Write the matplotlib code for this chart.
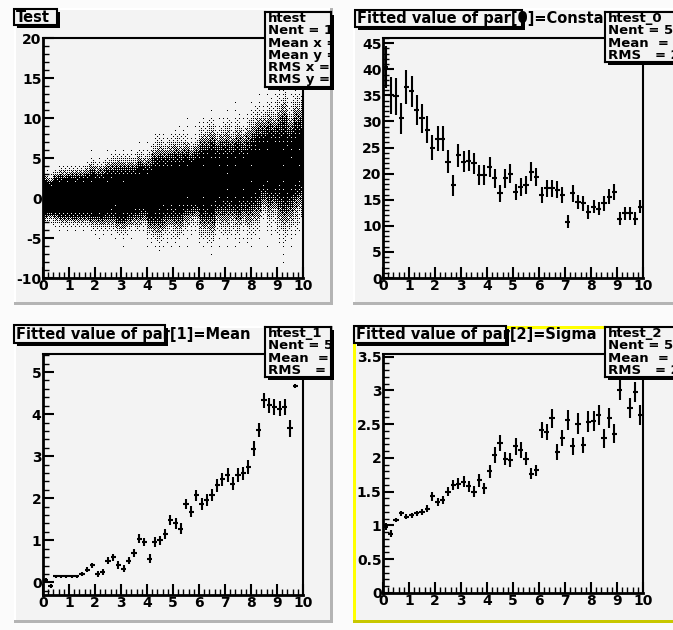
import numpy as np
import matplotlib
matplotlib.use("Agg")
import matplotlib.pyplot as plt
from matplotlib.patches import Rectangle
from matplotlib.ticker import MultipleLocator, FuncFormatter

# slice bins (FitSlicesY of htest, 50 bins on 0..10)
bin_x = np.linspace(0.1, 9.9, 50)

constant = [40.5, 35.0, 34.8, 30.6, 36.6, 35.8, 32.2, 30.6, 28.4, 25.0,
            26.7, 26.7, 22.3, 17.8, 23.5, 22.3, 22.5, 22.0, 19.7, 19.7,
            21.3, 19.1, 16.2, 19.1, 20.0, 16.5, 17.5, 17.8, 20.4, 19.4,
            15.9, 17.2, 17.2, 16.9, 15.9, 10.8, 16.2, 14.6, 14.3, 12.7,
            13.7, 13.3, 14.3, 15.6, 16.5, 11.4, 12.4, 12.4, 11.4, 13.7]
constant_err = [4.0, 3.5, 3.5, 3.0, 3.2, 3.0, 2.8, 2.8, 2.6, 2.4,
                2.4, 2.4, 2.2, 2.0, 2.2, 2.0, 2.0, 2.0, 1.9, 1.9,
                1.9, 1.8, 1.7, 1.8, 1.8, 1.6, 1.7, 1.7, 1.8, 1.7,
                1.6, 1.6, 1.6, 1.6, 1.5, 1.3, 1.6, 1.4, 1.4, 1.3,
                1.3, 1.3, 1.4, 1.4, 1.5, 1.2, 1.2, 1.2, 1.2, 1.3]

mean = [0.05, -0.09, 0.14, 0.14, 0.14, 0.14, 0.14, 0.19, 0.30, 0.41,
        0.20, 0.24, 0.52, 0.60, 0.41, 0.33, 0.52, 0.70, 1.04, 0.96,
        0.56, 0.96, 1.00, 1.16, 1.48, 1.40, 1.28, 1.87, 1.68, 2.07,
        1.87, 1.95, 2.07, 2.31, 2.45, 2.55, 2.35, 2.55, 2.59, 2.75,
        3.18, 3.62, 4.33, 4.21, 4.17, 4.13, 4.17, 3.66, 4.67, 5.00]
mean_err = [0.05, 0.05, 0.03, 0.03, 0.03, 0.03, 0.03, 0.05, 0.06, 0.06,
            0.07, 0.07, 0.08, 0.08, 0.09, 0.09, 0.09, 0.09, 0.10, 0.10,
            0.11, 0.11, 0.11, 0.12, 0.12, 0.12, 0.12, 0.12, 0.13, 0.13,
            0.14, 0.14, 0.14, 0.15, 0.15, 0.16, 0.15, 0.16, 0.16, 0.17,
            0.17, 0.17, 0.18, 0.18, 0.18, 0.18, 0.18, 0.20, 0.05, 0.20]

sigma = [0.98, 0.88, 1.08, 1.18, 1.13, 1.15, 1.18, 1.20, 1.25, 1.43,
         1.35, 1.38, 1.50, 1.60, 1.62, 1.65, 1.58, 1.50, 1.67, 1.55,
         1.80, 2.04, 2.22, 1.99, 1.97, 2.17, 2.12, 1.99, 1.77, 1.82,
         2.41, 2.39, 2.59, 2.09, 2.29, 2.56, 2.17, 2.51, 2.19, 2.54,
         2.55, 2.64, 2.29, 2.59, 2.36, 3.01, 3.30, 2.74, 2.98, 2.64]
sigma_err = [0.05, 0.05, 0.03, 0.04, 0.04, 0.04, 0.04, 0.05, 0.05, 0.06,
             0.06, 0.06, 0.07, 0.08, 0.08, 0.08, 0.08, 0.08, 0.10, 0.08,
             0.10, 0.12, 0.12, 0.10, 0.10, 0.12, 0.12, 0.10, 0.08, 0.08,
             0.12, 0.12, 0.14, 0.12, 0.12, 0.15, 0.12, 0.15, 0.12, 0.15,
             0.15, 0.15, 0.14, 0.15, 0.14, 0.15, 0.15, 0.15, 0.15, 0.15]

W, H = 673, 630
PAD = "#f3f3f3"
plt.rcParams["font.family"] = ["DejaVu Sans"]
plt.rcParams["font.weight"] = "bold"

fig = plt.figure(figsize=(W / 100, H / 100), dpi=100)
fig.patch.set_facecolor("#fbfbfb")


def frect(x0, y0, x1, y1, z=0, **kw):
    r = Rectangle((x0 / W, 1 - y1 / H), (x1 - x0) / W, (y1 - y0) / H,
                  transform=fig.transFigure, zorder=z, **kw)
    fig.patches.append(r)


def pad(x0, y0, x1, y1, active=False):
    frect(x0, y0, x1, y1, facecolor=PAD, edgecolor="none")
    if active:
        frect(x0, y0, x0 + 3, y1, z=1, facecolor="#ffff00", edgecolor="none")
        frect(x0, y0, x1, y0 + 3, z=1, facecolor="#ffff00", edgecolor="none")
        frect(x0, y1 - 3, x1, y1, z=1, facecolor="#c8c800", edgecolor="none")
        frect(x1 - 3, y0, x1, y1, z=1, facecolor="#c8c800", edgecolor="none")
    else:
        frect(x0, y0, x0 + 2, y1, z=1, facecolor="white", edgecolor="none")
        frect(x0, y0, x1, y0 + 2, z=1, facecolor="white", edgecolor="none")
        frect(x0, y1 - 3, x1, y1, z=1, facecolor="#b4b4b4", edgecolor="none")
        frect(x1 - 3, y0, x1, y1, z=1, facecolor="#b4b4b4", edgecolor="none")


def px_axes(x0, y0, x1, y1, z=1):
    return fig.add_axes([x0 / W, 1 - y1 / H, (x1 - x0) / W, (y1 - y0) / H], zorder=z)


def frame(ax, ylim, ymaj, ymin):
    ax.set_facecolor(PAD)
    ax.set_xlim(0, 10)
    ax.set_ylim(*ylim)
    ax.xaxis.set_major_locator(MultipleLocator(1))
    ax.xaxis.set_minor_locator(MultipleLocator(0.2))
    ax.yaxis.set_major_locator(MultipleLocator(ymaj))
    ax.yaxis.set_minor_locator(MultipleLocator(ymin))
    ax.yaxis.set_major_formatter(FuncFormatter(lambda v, p: "%g" % v))
    ax.tick_params(which="major", direction="in", length=8, width=1.5,
                   labelsize=10, pad=1)
    ax.tick_params(which="minor", direction="in", length=4, width=1)
    for s in ax.spines.values():
        s.set_linewidth(1.5)
    ax.spines["left"].set_linewidth(2)
    ax.spines["bottom"].set_linewidth(2)


def title_box(x0, y0, x1, y1, text):
    frect(x0 + 3, y0 + 3, x1 + 3, y1 + 3, z=4, facecolor="black", edgecolor="none")
    frect(x0, y0, x1, y1, z=4.5, facecolor=PAD, edgecolor="black", linewidth=1.5)
    fig.text((x0 + 2) / W, 1 - (y0 + y1) / 2 / H, text, fontsize=10.5,
             va="center", ha="left", zorder=5)


def stats_box(x0, y0, x1, y1, lines):
    frect(x0 + 3, y0 + 3, x1 + 3, y1 + 3, z=6, facecolor="black", edgecolor="none")
    ax = px_axes(x0, y0, x1, y1, z=7)
    ax.set_facecolor(PAD)
    ax.set_xticks([])
    ax.set_yticks([])
    for s in ax.spines.values():
        s.set_linewidth(1.5)
    h = y1 - y0
    for k, s in enumerate(lines):
        ax.text(3 / (x1 - x0), 1 - (6.5 + 12.3 * k) / h, s, transform=ax.transAxes,
                fontsize=9.5, va="center", ha="left", clip_on=True)


pad(14, 8, 333, 305)
pad(353, 8, 676, 305)
pad(14, 326, 333, 623)
pad(353, 326, 676, 623, active=True)

# ---- pad 1: scatter of htest, drawn from the slice parameters ----
ax1 = px_axes(43, 38, 303, 278)
frame(ax1, (-10, 20), 5, 1)
ncol, nrow = 260, 240
xc = (np.arange(ncol) + 0.5) * 10 / ncol
yc = 20 - (np.arange(nrow) + 0.5) * 30 / nrow
idx = np.minimum((xc / 0.2).astype(int), 49)
c = np.array(constant)[idx]
m = np.array(mean)[idx]
s = np.array(sigma)[idx]
g = np.exp(-0.5 * ((yc[:, None] - m[None, :]) / s[None, :]) ** 2)
prob = 1 - np.exp(-0.45 * c[None, :] * g)
bayer = np.array([[0]])
for _ in range(4):
    bayer = np.block([[4 * bayer, 4 * bayer + 2], [4 * bayer + 3, 4 * bayer + 1]])
nb = bayer.shape[0]
thr = (np.tile(bayer, (nrow // nb + 1, ncol // nb + 1))[:nrow, :ncol] + 0.5) / nb ** 2
dots = prob > thr
rgba = np.zeros((nrow, ncol, 4))
rgba[..., 3] = dots
ax1.imshow(rgba, extent=[0, 10, -10, 20], aspect="auto", interpolation="nearest",
           zorder=2)

# ---- pads 2-4: fitted parameters ----
ax2 = px_axes(383, 38, 643, 278)
frame(ax2, (0, 46), 5, 1)
ax2.errorbar(bin_x, constant, yerr=constant_err, xerr=0.1, fmt="none",
             ecolor="black", elinewidth=1.5, capsize=0)

ax3 = px_axes(43, 354, 303, 595)
frame(ax3, (-0.3, 5.43), 1, 0.2)
ax3.errorbar(bin_x, mean, yerr=mean_err, xerr=0.1, fmt="none",
             ecolor="black", elinewidth=1.5, capsize=0)

ax4 = px_axes(383, 354, 643, 593)
frame(ax4, (0, 3.54), 0.5, 0.1)
ax4.errorbar(bin_x, sigma, yerr=sigma_err, xerr=0.1, fmt="none",
             ecolor="black", elinewidth=1.5, capsize=0)

title_box(14, 9, 57, 25, "Test")
title_box(355, 10, 522, 27, "Fitted value of par[0]=Constant")
title_box(14, 325, 165, 343, "Fitted value of par[1]=Mean")
title_box(354, 326, 506, 343, "Fitted value of par[2]=Sigma")

stats_box(265, 12, 331, 87, ["htest", "Nent = 10000", "Mean x = 5.0", "Mean y = 1.9",
                             "RMS x = 2.9", "RMS y = 2.6"])
stats_box(605, 12, 676, 62, ["htest_0", "Nent = 50", "Mean  = 5.2", "RMS   = 2.7"])
stats_box(265, 327, 331, 377, ["htest_1", "Nent = 50", "Mean  = 6.8", "RMS   = 2.3"])
stats_box(605, 327, 676, 377, ["htest_2", "Nent = 50", "Mean  = 5.9", "RMS   = 2.8"])

fig.savefig("out.png", dpi=100, facecolor=fig.get_facecolor())
